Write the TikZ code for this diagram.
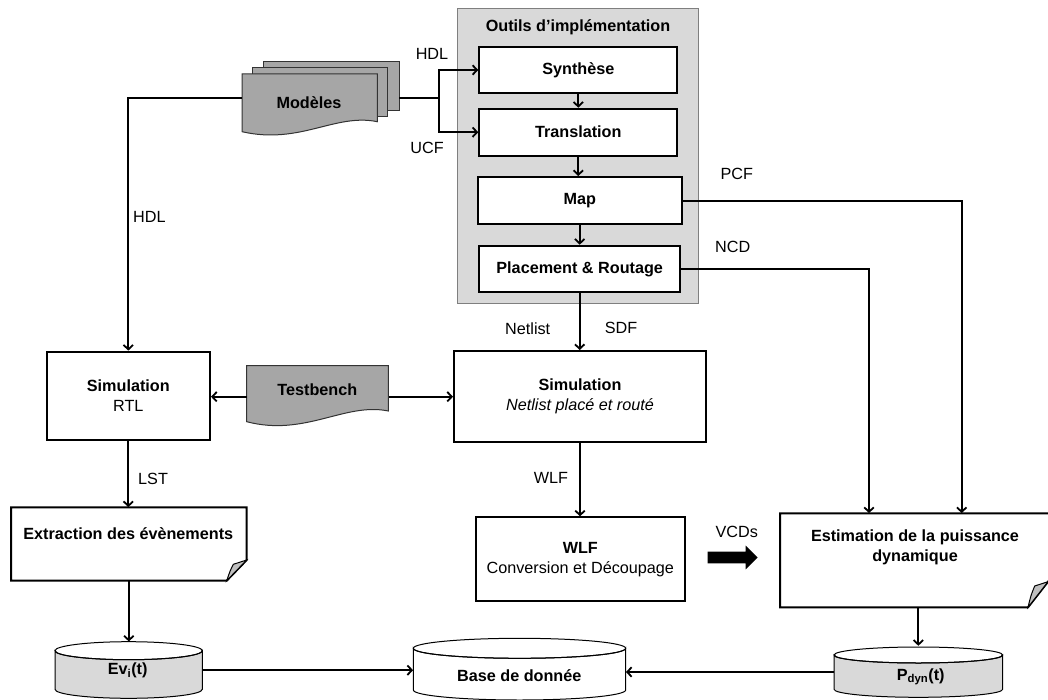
\documentclass[tikz,border=0pt]{standalone}
\usepackage{fontspec}
\setmainfont{Liberation Sans}
\usetikzlibrary{arrows.meta}
\definecolor{docgray}{HTML}{A6A6A6}
\definecolor{lightg}{HTML}{D9D9D9}
\definecolor{frameg}{HTML}{7F7F7F}
\definecolor{foldg}{HTML}{BFBFBF}
\newcommand\drawcyl[6]{% x1, x2, yt, yb, ry, fill
  \pgfmathsetmacro\cylrx{(#2-#1)/2}
  \pgfmathsetmacro\cylcx{(#2+#1)/2}
  \path[fill=#6, draw=black, line width=1pt]
    (#1,#3) -- (#1,#4) arc[start angle=180, end angle=0, x radius=\cylrx, y radius=#5]
    -- (#2,#3) arc[start angle=0, end angle=180, x radius=\cylrx, y radius=#5] -- cycle;
  \draw[line width=1pt] (\cylcx,#3) ellipse[x radius=\cylrx, y radius=#5];
}
\begin{document}
\begin{tikzpicture}[x=1pt,y=-1pt,
  font=\fontsize{16.2}{20}\selectfont,
  bf/.style={font=\fontsize{16.2}{20}\selectfont\bfseries},
  box/.style={draw=black, line width=2pt, fill=white, inner sep=0pt, align=center},
  conn/.style={line width=2pt, draw=black},
  arr/.style={conn, -{Straight Barb[length=4.5pt,width=9.5pt,line width=1.8pt]}},
  lbl/.style={inner sep=0pt},
  ghost/.style={inner sep=0pt, draw=none},
  docshape/.style={fill=docgray, draw=black!80, line width=1pt}
]
\useasboundingbox (0,0) rectangle (1048,700);

% implementation tools frame
\node[draw=frameg, fill=lightg, line width=1pt, minimum width=241pt, minimum height=294pt, inner sep=0pt] (impl) at (577.5,156) {};
\node[bf, lbl] (title) at (578,27) {Outils d’implémentation};
\node[box, bf, minimum width=198pt, minimum height=46.6pt] (syn) at (578.3,70) {Synthèse};
\node[box, bf, minimum width=198pt, minimum height=47pt] (tra) at (578.3,132.2) {Translation};
\node[box, bf, minimum width=204pt, minimum height=47.3pt] (map) at (579.7,200.7) {Map};
\node[box, bf, minimum width=200.7pt, minimum height=46.6pt] (pr) at (579.7,269) {Placement \& Routage};
\draw[arr] (syn.south) -- (tra.north);
\draw[arr] (tra.south) -- (tra.south |- map.north);
\draw[arr] (map.south) -- (pr.north);

% Modeles (multi document)
\draw[docshape] (263.3,61.3) rectangle (399,110.7);
\draw[docshape] (252.7,67.3) rectangle (387.3,116.7);
\draw[docshape] (242,74) -- (377.3,74) -- (377.3,121.7) .. controls (335,113) and (300,145) .. (242,131.7) -- cycle;
\node[bf, lbl] (modtxt) at (309,103) {Modèles};
\node[ghost, minimum width=157pt, minimum height=40pt] (mod) at (320.5,98) {};
\coordinate (br) at (439.3,98);
\draw[conn] (mod.east) -- (br);
\draw[arr] (br) |- (syn.west);
\draw[arr] (br) |- (tra.west);
\node[lbl] at (432,54) {HDL};
\node[lbl] at (427,148) {UCF};

% Simulation RTL
\node[box, minimum width=163.4pt, minimum height=88.3pt] (rtl) at (128.3,395.8) {\textbf{Simulation}\\RTL};
\draw[arr] (mod.west) -| (rtl.north);
\node[lbl, anchor=west] at (133,217) {HDL};

% Simulation netlist
\node[box, minimum width=252pt, minimum height=90.7pt] (net) at (580,396.4) {\textbf{Simulation}\\\textit{Netlist placé et routé}};
\draw[arr] (pr.south) -- (pr.south |- net.north);
\node[lbl] at (527.7,328.3) {Netlist};
\node[lbl] at (621,328.3) {SDF};

% Testbench
\draw[docshape] (246.7,365.7) -- (388.3,365.7) -- (388.3,411) .. controls (345,402) and (305,437) .. (246.7,421.7) -- cycle;
\node[ghost, minimum width=141.6pt, minimum height=40pt] (tb) at (317.5,396.7) {};
\node[bf, lbl] at (317.3,390) {Testbench};
\draw[arr] (tb.west) -- (tb.west -| rtl.east);
\draw[arr] (tb.east) -- (tb.east -| net.west);

% Extraction des evenements
\draw[line width=2pt, fill=white] (11,507.3) -- (246.7,507.3) -- (246.7,560) -- (226.7,580.7) -- (11,580.7) -- cycle;
\draw[line width=1pt, fill=foldg] (246.7,560) -- (233.3,564.3) .. controls (230,571) .. (226.7,580.7) -- cycle;
\node[ghost, minimum width=235.7pt, minimum height=73.4pt] (ext) at (128.85,544) {};
\node[bf, lbl] at (128.3,533.3) {Extraction des évènements};
\draw[arr] (rtl.south) -- (rtl.south |- ext.north);
\node[lbl, anchor=west] at (138,479.3) {LST};

% WLF
\node[box, minimum width=209.3pt, minimum height=83.7pt] (wlf) at (580.3,559.2) {\textbf{WLF}\\Conversion et Découpage};
\draw[arr] (net.south) -- (net.south |- wlf.north);
\node[lbl] at (551,478.3) {WLF};

% VCDs block arrow
\fill[black] (707.7,551.7) -- (745.7,551.7) -- (745.7,545.7) -- (757.7,557.5) -- (745.7,569.3) -- (745.7,563.3) -- (707.7,563.3) -- cycle;
\node[lbl] at (736.7,531.7) {VCDs};

% Estimation
\draw[line width=2pt, fill=white] (780,513.3) -- (1052,513.3) -- (1052,576.6) -- (1028,607.3) -- (780,607.3) -- cycle;
\draw[line width=1pt, fill=foldg] (1048,581.7) -- (1034.7,586) .. controls (1031,595) .. (1028,607.3) -- cycle;
\node[ghost, minimum width=268pt, minimum height=94pt] (est) at (914,560.3) {};
\node[bf, lbl, align=center] at (915,547) {Estimation de la puissance\\dynamique};
\coordinate (pcfx) at (961.7,0);
\coordinate (ncdx) at (869,0);
\draw[arr] (map.east) -| (pcfx |- est.north);
\draw[arr] (pr.east) -| (ncdx |- est.north);
\node[lbl] at (736.7,174) {PCF};
\node[lbl] at (732.7,247.3) {NCD};

% databases
\drawcyl{55}{202.3}{650.7}{689.3}{9}{lightg}
\drawcyl{834}{1002.7}{655}{689.3}{8}{lightg}
\drawcyl{413.3}{625.7}{648.3}{690}{10}{white}
\node[ghost, minimum width=147.3pt, minimum height=57pt] (ev) at (128.65,670.2) {};
\node[ghost, minimum width=168.7pt, minimum height=52pt] (pd) at (918.35,672) {};
\node[ghost, minimum width=212.4pt, minimum height=62pt] (base) at (519.5,669.3) {};
\node[bf, lbl] at (127.7,670.5) {Ev\textsubscript{i}(t)};
\node[bf, lbl] at (920.7,677) {P\textsubscript{dyn}(t)};
\node[bf, lbl] at (519.3,676) {Base de donnée};
\draw[arr] (ext.south) -- (ext.south |- ev.north);
\draw[arr] (pd.north |- est.south) -- (pd.north);
\draw[arr] (ev.east) -- (ev.east -| base.west);
\draw[arr] (pd.west) -- (pd.west -| base.east);
\end{tikzpicture}
\end{document}
